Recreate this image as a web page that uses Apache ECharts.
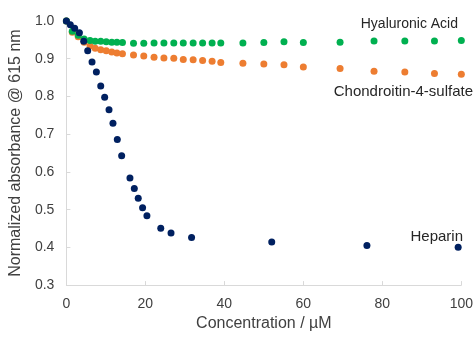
<!DOCTYPE html>
<html>
<head>
<meta charset="utf-8">
<script src="https://cdn.jsdelivr.net/npm/echarts@6/dist/echarts.min.js"></script>
<style>html,body{margin:0;padding:0;background:#fff}#c{width:476px;height:337px}</style>
</head>
<body>
<div id="c"></div>
<script>
const heparinX = [0,1.0,2.1,3.3,4.4,5.4,6.5,7.6,8.7,9.7,10.8,11.8,12.9,14.0,16.1,17.2,18.2,19.3,20.4,23.9,26.5,31.7,52.0,76.1,99.2];
const heparinY = [1.0,0.99,0.981,0.969,0.946,0.921,0.891,0.865,0.828,0.798,0.765,0.729,0.686,0.643,0.584,0.556,0.530,0.505,0.484,0.451,0.438,0.426,0.414,0.405,0.40];
const gagX = [0,1.5,3.0,4.5,6.0,7.3,8.7,10.1,11.5,12.8,14.2,17.0,19.6,22.2,24.7,27.2,29.6,32.1,34.5,36.9,39.1,44.7,50.0,55.1,60.0,69.3,77.9,85.7,93.2,100];
const haY = [1.0,0.973,0.962,0.952,0.948,0.946,0.946,0.945,0.944,0.944,0.943,0.941,0.941,0.942,0.942,0.942,0.942,0.942,0.942,0.942,0.942,0.942,0.943,0.945,0.943,0.944,0.947,0.947,0.947,0.948];
const csY = [1.0,0.970,0.958,0.944,0.934,0.928,0.924,0.921,0.918,0.915,0.913,0.910,0.907,0.904,0.902,0.901,0.898,0.897,0.895,0.893,0.890,0.888,0.886,0.884,0.878,0.874,0.867,0.865,0.861,0.859];
const seriesNames = ['Chondroitin-4-sulfate','Hyaluronic Acid','Heparin'];
const xAxisTitle = 'Concentration / µM';
const yAxisTitle = 'Normalized absorbance @ 615 nm';

const zip = (xs, ys) => xs.map((x, i) => [x, ys[i]]);
const font = 'Liberation Sans, Arial, sans-serif';
const chart = echarts.init(document.getElementById('c'), null, {renderer: 'canvas'});
chart.setOption({
  animation: false,
  grid: {left: 66, right: 13, top: 21, bottom: 50, containLabel: false},
  xAxis: {
    type: 'value', min: 0, max: 100, interval: 20,
    name: xAxisTitle, nameLocation: 'middle', nameGap: 26,
    nameTextStyle: {fontFamily: font, fontSize: 16, color: '#404040', verticalAlign: 'top'},
    axisLine: {show: true, lineStyle: {color: '#d9d9d9', width: 1}},
    axisTick: {show: true, inside: true, length: 4, lineStyle: {color: '#d9d9d9'}},
    axisLabel: {fontFamily: font, fontSize: 14, color: '#404040', margin: 12},
    splitLine: {show: false}
  },
  yAxis: {
    type: 'value', min: 0.3, max: 1.0, interval: 0.1,
    name: yAxisTitle, nameLocation: 'middle', nameGap: 37, nameRotate: 90,
    nameTextStyle: {fontFamily: font, fontSize: 16, color: '#404040'},
    axisLine: {show: true, lineStyle: {color: '#d9d9d9', width: 1}},
    axisTick: {show: true, inside: true, length: 4, lineStyle: {color: '#d9d9d9'}},
    axisLabel: {fontFamily: font, fontSize: 14, color: '#404040', margin: 12, formatter: v => v.toFixed(1)},
    splitLine: {show: false}
  },
  series: [
    {name: seriesNames[0], type: 'scatter', symbolSize: 7, itemStyle: {color: '#ed7d31', opacity: 1}, data: zip(gagX, csY), z: 2},
    {name: seriesNames[1], type: 'scatter', symbolSize: 7, itemStyle: {color: '#00b050', opacity: 1}, data: zip(gagX, haY), z: 3},
    {name: seriesNames[2], type: 'scatter', symbolSize: 7, itemStyle: {color: '#002060', opacity: 1}, data: zip(heparinX, heparinY), z: 4}
  ],
  graphic: [
    {type: 'text', right: 18, top: 17, style: {text: seriesNames[1], font: '14px ' + font, fill: '#262626'}},
    {type: 'text', right: 3, top: 84, style: {text: seriesNames[0], font: '15px ' + font, fill: '#262626'}},
    {type: 'text', right: 13, top: 229, style: {text: seriesNames[2], font: '15px ' + font, fill: '#262626'}}
  ]
});
</script>
</body>
</html>
